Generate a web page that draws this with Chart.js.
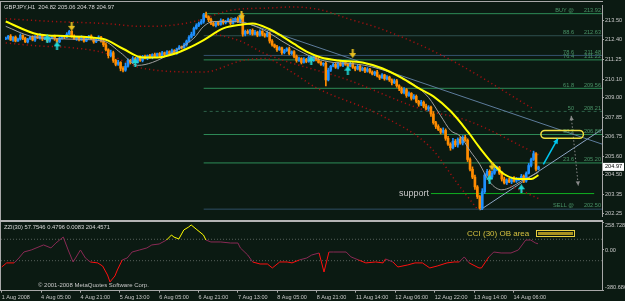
<!DOCTYPE html>
<html>
<head>
<meta charset="utf-8">
<script src="https://cdn.jsdelivr.net/npm/chart.js@4.4.1/dist/chart.umd.min.js"></script>
<style>
html, body { margin: 0; padding: 0; background: #0b1a12; }
#wrap { position: relative; width: 625px; height: 301px; overflow: hidden; background: #0b1a12; }
canvas { position: absolute; left: 0; }
#main { top: 0; }
#cci { top: 221px; }
#sep { position: absolute; left: 0; top: 219.5px; width: 603px; height: 2.5px; background: #b4b4b4; }
</style>
</head>
<body>
<div id="wrap">
  <canvas id="main" width="625" height="221"></canvas>
  <canvas id="cci" width="625" height="80"></canvas>
  <div id="sep"></div>
</div>
<script>
// GBPJPY H1, 1 Aug - 14 Aug 2008
var symbolTitle = 'GBPJPY,H1  204.82 205.06 204.78 204.97';
var cciTitle = 'ZZI(30) 57.7546 0.4796 0.0083 204.4571';

var timeLabels = ['1 Aug 2008', '4 Aug 05:00', '4 Aug 21:00', '5 Aug 13:00', '6 Aug 05:00', '6 Aug 21:00',
  '7 Aug 13:00', '8 Aug 05:00', '8 Aug 21:00', '11 Aug 14:00', '12 Aug 06:00', '12 Aug 22:00',
  '13 Aug 14:00', '14 Aug 06:00'];
var timeTickBars = [0, 16, 32, 48, 64, 80, 96, 112, 128, 144, 160, 176, 192, 208];

var priceTicks = ['213.50', '212.40', '211.25', '210.10', '209.00', '207.85', '206.75', '205.60', '204.50', '203.35', '202.25'];
var cciTickValues = [258.7284, 100, 0, -100, -380.686];
var cciTickLabels = ['258.7284', '100', '0.00', '-100', '-380.686'];

var firstOpen = 212.44;
var closes = [
  212.49,212.61,212.38,212.55,212.32,212.44,212.66,212.49,212.27,212.44,
  212.55,212.38,212.61,212.49,212.66,212.44,212.55,212.32,212.49,212.61,
  212.44,212.27,212.49,212.61,212.55,212.72,212.89,212.61,212.44,212.55,
  212.38,212.55,212.32,212.49,212.61,212.44,212.27,212.44,212.55,212.32,
  212.10,211.81,211.47,211.64,211.19,210.96,211.07,210.73,210.62,210.85,
  211.19,211.07,211.30,211.13,211.36,211.19,211.42,211.30,211.47,211.36,
  211.53,211.42,211.59,211.47,211.64,211.53,211.70,211.59,211.76,211.64,
  211.87,211.98,211.93,212.10,212.32,212.55,212.72,213.06,213.23,213.35,
  213.46,213.86,213.74,213.57,213.35,213.23,213.40,213.29,213.52,213.40,
  213.46,213.57,213.35,213.52,213.63,213.46,213.74,212.72,212.89,212.78,
  212.95,212.72,212.84,212.66,212.89,212.72,212.61,212.78,212.32,212.10,
  211.98,211.81,211.93,211.64,211.76,211.87,211.59,211.70,211.42,211.19,
  211.30,211.07,211.25,211.13,211.36,211.19,211.42,211.25,211.07,210.96,
  211.02,210.05,210.62,210.85,210.96,210.79,211.02,210.90,211.07,210.96,
  210.85,211.02,210.79,210.68,210.85,210.62,210.73,210.56,210.68,210.51,
  210.39,210.51,210.28,210.17,210.34,210.11,210.22,210.05,209.88,210.00,
  209.71,209.54,209.31,209.48,209.14,209.26,208.97,209.09,208.80,208.63,
  208.75,208.52,208.35,208.46,208.06,207.55,207.33,207.16,206.99,207.10,
  206.64,206.30,206.08,206.47,206.25,206.59,206.36,206.70,206.53,205.40,
  204.83,204.37,203.80,203.24,202.55,203.52,204.49,204.71,204.37,204.60,
  204.83,204.94,204.60,204.26,204.03,204.20,204.09,204.32,204.14,204.26,
  204.26,204.43,204.14,204.60,205.05,205.40,205.74,204.83,204.97
];
// wick lengths in pips (0.01) above the body top and below the body bottom
var wickHi = [
  6,4,9,3,7,5,8,2,6,4, 5,8,3,6,9,4,2,7,5,3, 6,4,8,5,3,9,6,4,7,2, 5,8,3,6,4,7,5,2,8,4,
  8,12,6,15,9,7,13,5,10,18, 9,6,11,7,5,10,6,8,4,7, 5,9,3,6,8,4,7,5,9,6, 4,8,5,10,6,9,12,7,10,8,
  12,8,15,6,9,11,5,8,10,6, 7,9,5,8,6,10,14,20,7,9, 5,8,10,6,9,4,7,11,6,8, 5,9,7,4,8,6,10,5,7,9,
  8,5,10,6,9,4,7,5,11,6, 4,8,12,5,7,9,6,10,5,8, 7,9,4,6,10,5,8,6,9,4, 7,5,10,6,8,4,9,5,7,10,
  8,6,10,12,7,9,5,11,8,6, 10,7,12,9,6,14,8,10,7,15, 9,12,8,16,10,7,14,9,11,8, 10,14,12,8,6,18,10,12,9,11,
  12,8,6,9,11,7,10,5,8,9, 6,10,7,8,12,9,15,6,5
];
var wickLo = [
  4,7,3,8,5,2,6,9,4,6, 3,5,8,2,6,9,4,3,7,5, 8,3,5,6,9,4,2,7,3,8, 5,2,7,4,6,3,8,5,4,6,
  10,6,14,8,12,9,6,15,11,7, 5,9,4,8,10,6,9,3,7,5, 8,4,6,9,3,7,5,8,4,6, 9,5,7,4,8,5,6,9,5,7,
  6,10,5,12,8,4,9,6,5,10, 8,4,7,5,9,6,8,12,10,5, 8,6,4,9,5,10,7,5,12,8, 6,9,4,10,7,5,8,6,9,11,
  6,9,4,8,5,10,6,9,4,7, 10,35,6,8,4,7,10,5,8,6, 9,4,7,10,5,8,4,9,6,7, 5,9,6,10,4,8,6,9,12,5,
  9,12,7,8,11,6,10,5,9,12, 8,10,6,11,14,9,12,7,10,6, 12,8,14,6,10,13,7,11,8,12, 10,9,14,12,5,8,11,7,10,9,
  7,10,8,12,6,9,5,10,7,8, 11,6,9,7,5,8,6,9,4
];

// moving averages, [bar, price]
var yellowMA = [[0,213.46],[13,212.72],[24,212.61],[40,212.44],[48,211.87],[56,211.36],[62,211.36],[68,211.53],
  [75,211.93],[81,212.38],[89,213.06],[97,213.29],[101,213.35],[108,213.01],[113,212.61],[118,212.15],[124,211.64],
  [129,211.36],[136,211.19],[146,211.07],[154,210.73],[162,210.17],[170,209.48],[175,209.09],[182,208.23],
  [189,207.04],[194,206.08],[200,205.05],[204,204.54],[210,204.26],[215,204.26],[218,204.49]];
var grayMA = [[0,213.18],[10,212.61],[24,212.44],[40,212.32],[47,211.64],[54,210.90],[60,211.07],[68,211.64],
  [77,212.49],[81,213.18],[85,213.46],[93,213.46],[100,213.29],[108,212.78],[113,212.32],[120,211.76],[127,211.30],
  [134,211.07],[140,211.02],[147,210.90],[158,210.45],[166,209.88],[173,209.03],[178,207.95],[182,207.10],
  [186,206.76],[190,205.91],[194,205.11],[198,204.09],[203,203.63],[207,203.80],[211,204.14],[218,204.66]];

// dotted red bands
var bandUpper = [[0,213.63],[20,213.46],[40,213.35],[56,213.18],[67,213.23],[77,213.46],[93,214.14],[108,214.25],
  [117,214.31],[129,214.14],[140,213.63],[154,213.01],[181,211.30],[216,208.35]];
var bandMiddle = [[86,212.72],[96,212.32],[106,211.59],[140,210.05],[170,208.35],[189,207.67],[218,205.68]];
var bandLower = [[0,212.21],[13,212.04],[27,211.93],[40,211.64],[56,210.73],[81,210.51],[97,211.19],[106,211.30],
  [117,210.51],[127,209.60],[154,207.95],[174,206.08],[185,203.97],[193,202.50]];
var bandTail = [[205,203.97],[218,203.12]];

// fibonacci retracement from the 7 Aug high
var fibNames = ['BUY @', '88.6', '78.6', '76.4', '61.8', '50', '38.2', '23.6', 'SELL @'];
var fibPrices = [213.92, 212.63, 211.48, 211.22, 209.56, 208.21, 206.86, 205.20, 202.50];
var fibStartBar = 81;

// hand drawn objects
var trendDown = [[92,213.69],[244,206.30]];
var trendUp = [[194,202.44],[244,207.16]];
var supportLine = [[174,203.41],[240.8,203.41]];
var cyanArrow = [[220,205.11],[226,206.64]];
var grayArrow = [[231.4,207.95],[234.3,203.86]];
var ellipseBox = [219, 236.4, 207.10, 206.64];

var sellSignals = [[27,213.18],[96.5,213.80],[142,211.59],[199,205.02]];
var buySignals = [[17,212.44],[21,212.04],[53,211.07],[125,211.19],[140,210.62],[198,204.26],[211,203.69]];

// CCI(30)
var cciBars = [0,2,5,7,9,12,17,20,22,25,27,29,30,32,34,36,39,41,43,44,46,47,49,51,53,56,59,61,64,67,
  69,70,72,74,76,77,79,82,83,85,89,93,96,97,100,102,105,108,110,113,116,118,121,124,126,129,131,133,135,140,
  142,145,148,152,155,156,159,161,165,168,171,174,177,181,184,186,188,190,194,195,198,200,203,207,210,213,215,217,218];
var cciValues = [-159,-121,-121,-75,-19,0,47,19,65,121,0,-112,-75,0,-75,-112,-121,-150,-234,-299,
  -243,-187,-93,-75,-19,0,19,47,56,93,140,121,103,187,215,234,196,140,93,75,
  75,65,65,19,-47,-112,-131,-131,-168,-112,-112,-121,-93,-75,-47,-28,-206,-19,-19,-19,
  -65,-93,-121,-112,-121,-84,-112,-159,-140,-121,-121,-168,-150,-121,-112,-112,-65,-121,-168,-168,
  -65,-19,-28,-28,0,93,93,65,58];

var AXIS = '#a8a8a8';
var TXT = '#c8c8c8';
var FONT = '"Liberation Sans", Arial, sans-serif';
var xMin = -0.3, xMax = 244;

function pts(arr) { return arr.map(function (p) { return {x: p[0], y: p[1]}; }); }

function arrowImage(color, down) {
  var c = document.createElement('canvas');
  c.width = 7; c.height = 9;
  var g = c.getContext('2d');
  g.fillStyle = color;
  g.beginPath();
  if (down) {
    g.fillRect(2.5, 0, 2, 5);
    g.moveTo(0, 4); g.lineTo(7, 4); g.lineTo(3.5, 9);
  } else {
    g.fillRect(2.5, 4, 2, 5);
    g.moveTo(0, 5); g.lineTo(7, 5); g.lineTo(3.5, 0);
  }
  g.fill();
  return c;
}

function lineSet(data, color, width, dash) {
  return {type: 'line', data: pts(data), borderColor: color, borderWidth: width, borderDash: dash || [],
    pointRadius: 0, tension: 0, fill: false};
}
function curveSet(data, color, width, dash) {
  var d = lineSet(data, color, width, dash);
  d.tension = 0.4;
  d.cubicInterpolationMode = 'monotone';
  return d;
}

var fibColors = ['#2e8b57', '#2f4f4f', '#34506e', '#2e8b57', '#2e8b57', '#2c6048', '#2e8b57', '#2e8b57', '#2f4f66'];

var opens = closes.map(function (c, i) { return i ? closes[i - 1] : firstOpen; });
var bodyData = closes.map(function (c, i) { return {x: i, y: [opens[i], c]}; });
var wickData = closes.map(function (c, i) {
  return {x: i, y: [Math.min(opens[i], c) - wickLo[i] / 100, Math.max(opens[i], c) + wickHi[i] / 100]};
});
var candleColors = closes.map(function (c, i) { return c >= opens[i] ? '#1e90ff' : '#ff8c00'; });

var datasets = [];
datasets.push({type: 'line', data: pts(sellSignals), showLine: false, pointStyle: arrowImage('#e8c020', true), pointRadius: 4});
datasets.push({type: 'line', data: pts(buySignals), showLine: false, pointStyle: arrowImage('#20d8d8', false), pointRadius: 4});
datasets.push(lineSet(cyanArrow, '#00c8f0', 1.5));
datasets.push(lineSet(grayArrow, '#8a8a8a', 1, [1.5, 2]));
datasets.push(curveSet(yellowMA, '#ffff00', 2));
datasets.push(curveSet(grayMA, '#a0a0a0', 1));
datasets.push({type: 'bar', data: bodyData, barThickness: 2, minBarLength: 1, grouped: false, backgroundColor: candleColors});
datasets.push({type: 'bar', data: wickData, barThickness: 1, grouped: false, backgroundColor: candleColors});
datasets.push(curveSet(bandUpper, '#a01010', 1.5, [1.2, 3]));
datasets.push(curveSet(bandMiddle, '#a01010', 1.5, [1.2, 3]));
datasets.push(curveSet(bandLower, '#a01010', 1.5, [1.2, 3]));
datasets.push(lineSet(bandTail, '#a01010', 1.5, [1.2, 3]));
datasets.push(lineSet(trendDown, '#5d7c9c', 1));
datasets.push(lineSet(trendUp, '#8ea6c6', 1));
datasets.push(lineSet(supportLine, '#10b020', 1));
fibPrices.forEach(function (p, k) {
  datasets.push(lineSet([[fibStartBar, p], [xMax, p]], fibColors[k], 1, k === 5 ? [3, 3] : []));
});

function arrowHead(ctx, x0, y0, x1, y1, size, color) {
  var a = Math.atan2(y1 - y0, x1 - x0);
  ctx.fillStyle = color;
  ctx.beginPath();
  ctx.moveTo(x1, y1);
  ctx.lineTo(x1 - size * Math.cos(a - 0.45), y1 - size * Math.sin(a - 0.45));
  ctx.lineTo(x1 - size * Math.cos(a + 0.45), y1 - size * Math.sin(a + 0.45));
  ctx.closePath();
  ctx.fill();
}

var mainOverlay = {
  id: 'mainOverlay',
  afterDatasetsDraw: function (chart) {
    var ctx = chart.ctx, x = chart.scales.x, y = chart.scales.y;
    ctx.save();
    // fib labels
    ctx.font = '5.6px ' + FONT;
    ctx.fillStyle = '#4a9468';
    ctx.textBaseline = 'bottom';
    ctx.textAlign = 'right';
    fibPrices.forEach(function (p, k) {
      var py = y.getPixelForValue(p) - 0.5;
      ctx.fillText(fibNames[k], 574, py);
      ctx.fillText(p.toFixed(2), 601, py);
    });
    // support label
    ctx.font = '9px ' + FONT;
    ctx.fillStyle = TXT;
    ctx.textBaseline = 'middle';
    ctx.fillText('support', x.getPixelForValue(supportLine[0][0]) - 2, y.getPixelForValue(supportLine[0][1]));
    // ellipse
    var ex0 = x.getPixelForValue(ellipseBox[0]), ex1 = x.getPixelForValue(ellipseBox[1]);
    var ey0 = y.getPixelForValue(ellipseBox[2]), ey1 = y.getPixelForValue(ellipseBox[3]);
    ctx.strokeStyle = '#f0e040';
    ctx.lineWidth = 1.5;
    ctx.beginPath();
    ctx.roundRect(ex0, ey0, ex1 - ex0, ey1 - ey0, (ey1 - ey0) / 2);
    ctx.stroke();
    // arrow heads
    var c0x = x.getPixelForValue(cyanArrow[0][0]), c0y = y.getPixelForValue(cyanArrow[0][1]);
    var c1x = x.getPixelForValue(cyanArrow[1][0]), c1y = y.getPixelForValue(cyanArrow[1][1]);
    arrowHead(ctx, c0x, c0y, c1x, c1y, 6, '#00c8f0');
    var g0x = x.getPixelForValue(grayArrow[0][0]), g0y = y.getPixelForValue(grayArrow[0][1]);
    var g1x = x.getPixelForValue(grayArrow[1][0]), g1y = y.getPixelForValue(grayArrow[1][1]);
    arrowHead(ctx, g0x, g0y, g1x, g1y, 5, '#8a8a8a');
    arrowHead(ctx, g1x, g1y, g0x, g0y, 5, '#8a8a8a');
    // title
    ctx.font = '5.8px ' + FONT;
    ctx.fillStyle = '#d8d8d8';
    ctx.textAlign = 'left';
    ctx.textBaseline = 'middle';
    ctx.fillText(symbolTitle, 4, 7);
    // frame
    ctx.fillStyle = AXIS;
    ctx.fillRect(0, 1, 603, 1);
    ctx.fillRect(0, 1, 1, 220);
    // last price box
    var last = closes[closes.length - 1];
    var ly = y.getPixelForValue(last);
    ctx.fillStyle = '#ffffff';
    ctx.fillRect(603, ly - 4, 21, 8);
    ctx.fillStyle = '#000000';
    ctx.font = '5.6px ' + FONT;
    ctx.fillText(last.toFixed(2), 605, ly);
    ctx.restore();
  }
};

function fixY(s) { s.width = 23; s.paddingTop = 0; s.paddingBottom = 0; }

new Chart(document.getElementById('main'), {
  type: 'line',
  data: {datasets: datasets},
  options: {
    responsive: false, animation: false, events: [],
    layout: {padding: {left: 1, top: 3, right: 0, bottom: 1}},
    plugins: {legend: {display: false}, tooltip: {enabled: false}},
    scales: {
      x: {type: 'linear', min: xMin, max: xMax, offset: false, display: false},
      y: {
        position: 'right', min: 202.10, max: 214.426,
        afterFit: fixY,
        afterBuildTicks: function (s) { s.ticks = priceTicks.map(function (t) { return {value: parseFloat(t)}; }); },
        ticks: {callback: function (v, i) { return priceTicks[i]; }, color: TXT, font: {size: 5.6, family: FONT}, padding: 1},
        grid: {drawOnChartArea: false, tickLength: 2, color: AXIS},
        border: {color: AXIS}
      }
    }
  },
  plugins: [mainOverlay]
});

var cciOverlay = {
  id: 'cciOverlay',
  afterDatasetsDraw: function (chart) {
    var ctx = chart.ctx;
    ctx.save();
    ctx.fillStyle = '#d8d8d8';
    ctx.font = '5.8px ' + FONT;
    ctx.textBaseline = 'middle';
    ctx.fillText(cciTitle, 4, 6.5);
    ctx.fillStyle = TXT;
    ctx.font = '6px ' + FONT;
    ctx.fillText('\u00a9 2001-2008 MetaQuotes Software Corp.', 38, 64);
    ctx.fillStyle = '#d4c040';
    ctx.font = '8px ' + FONT;
    ctx.fillText('CCI (30) OB area', 467, 12.5);
    ctx.strokeStyle = '#e8d040';
    ctx.lineWidth = 1;
    ctx.strokeRect(536.5, 9.5, 38, 6);
    ctx.fillStyle = '#a89020';
    ctx.fillRect(538, 11, 35, 3);
    ctx.fillStyle = AXIS;
    ctx.fillRect(0, 0, 1, 70);
    ctx.restore();
  }
};

function cciColor(c) {
  var m = (c.p0.parsed.y + c.p1.parsed.y) / 2;
  if (m > 100) return '#ffff00';
  if (m < -100) return '#ff1010';
  return '#8a2a55';
}

new Chart(document.getElementById('cci'), {
  type: 'line',
  data: {
    datasets: [
      {data: cciBars.map(function (b, i) { return {x: b, y: cciValues[i]}; }), borderColor: '#8a2a55',
        borderWidth: 1, pointRadius: 0, tension: 0, segment: {borderColor: cciColor}},
      lineSet([[xMin, 100], [xMax, 100]], '#56605a', 1, [1, 2]),
      lineSet([[xMin, -100], [xMax, -100]], '#56605a', 1, [1, 2])
    ]
  },
  options: {
    responsive: false, animation: false, events: [],
    layout: {padding: {left: 1, top: 1.3, right: 0, bottom: 0}},
    plugins: {legend: {display: false}, tooltip: {enabled: false}},
    scales: {
      x: {
        type: 'linear', min: xMin, max: xMax,
        afterFit: function (s) { s.height = 10.3; s.paddingLeft = 0; s.paddingRight = 0; },
        afterBuildTicks: function (s) { s.ticks = timeTickBars.map(function (v) { return {value: v}; }); },
        ticks: {callback: function (v, i) { return timeLabels[i]; }, align: 'start', autoSkip: false, maxRotation: 0,
          color: TXT, font: {size: 5.5, family: FONT}, padding: 1},
        grid: {drawOnChartArea: false, tickLength: 2, color: AXIS},
        border: {color: AXIS}
      },
      y: {
        position: 'right', min: -380.686, max: 258.7284,
        afterFit: fixY,
        afterBuildTicks: function (s) { s.ticks = cciTickValues.map(function (v) { return {value: v}; }); },
        ticks: {
          callback: function (v, i) {
            if (i === 0) return ['', cciTickLabels[i]];
            if (i === cciTickLabels.length - 1) return [cciTickLabels[i], ''];
            return cciTickLabels[i];
          },
          color: TXT, font: {size: 5.6, family: FONT}, padding: 1
        },
        grid: {drawOnChartArea: false, tickLength: 2, color: AXIS},
        border: {color: AXIS}
      }
    }
  },
  plugins: [cciOverlay]
});
</script>
</body>
</html>
